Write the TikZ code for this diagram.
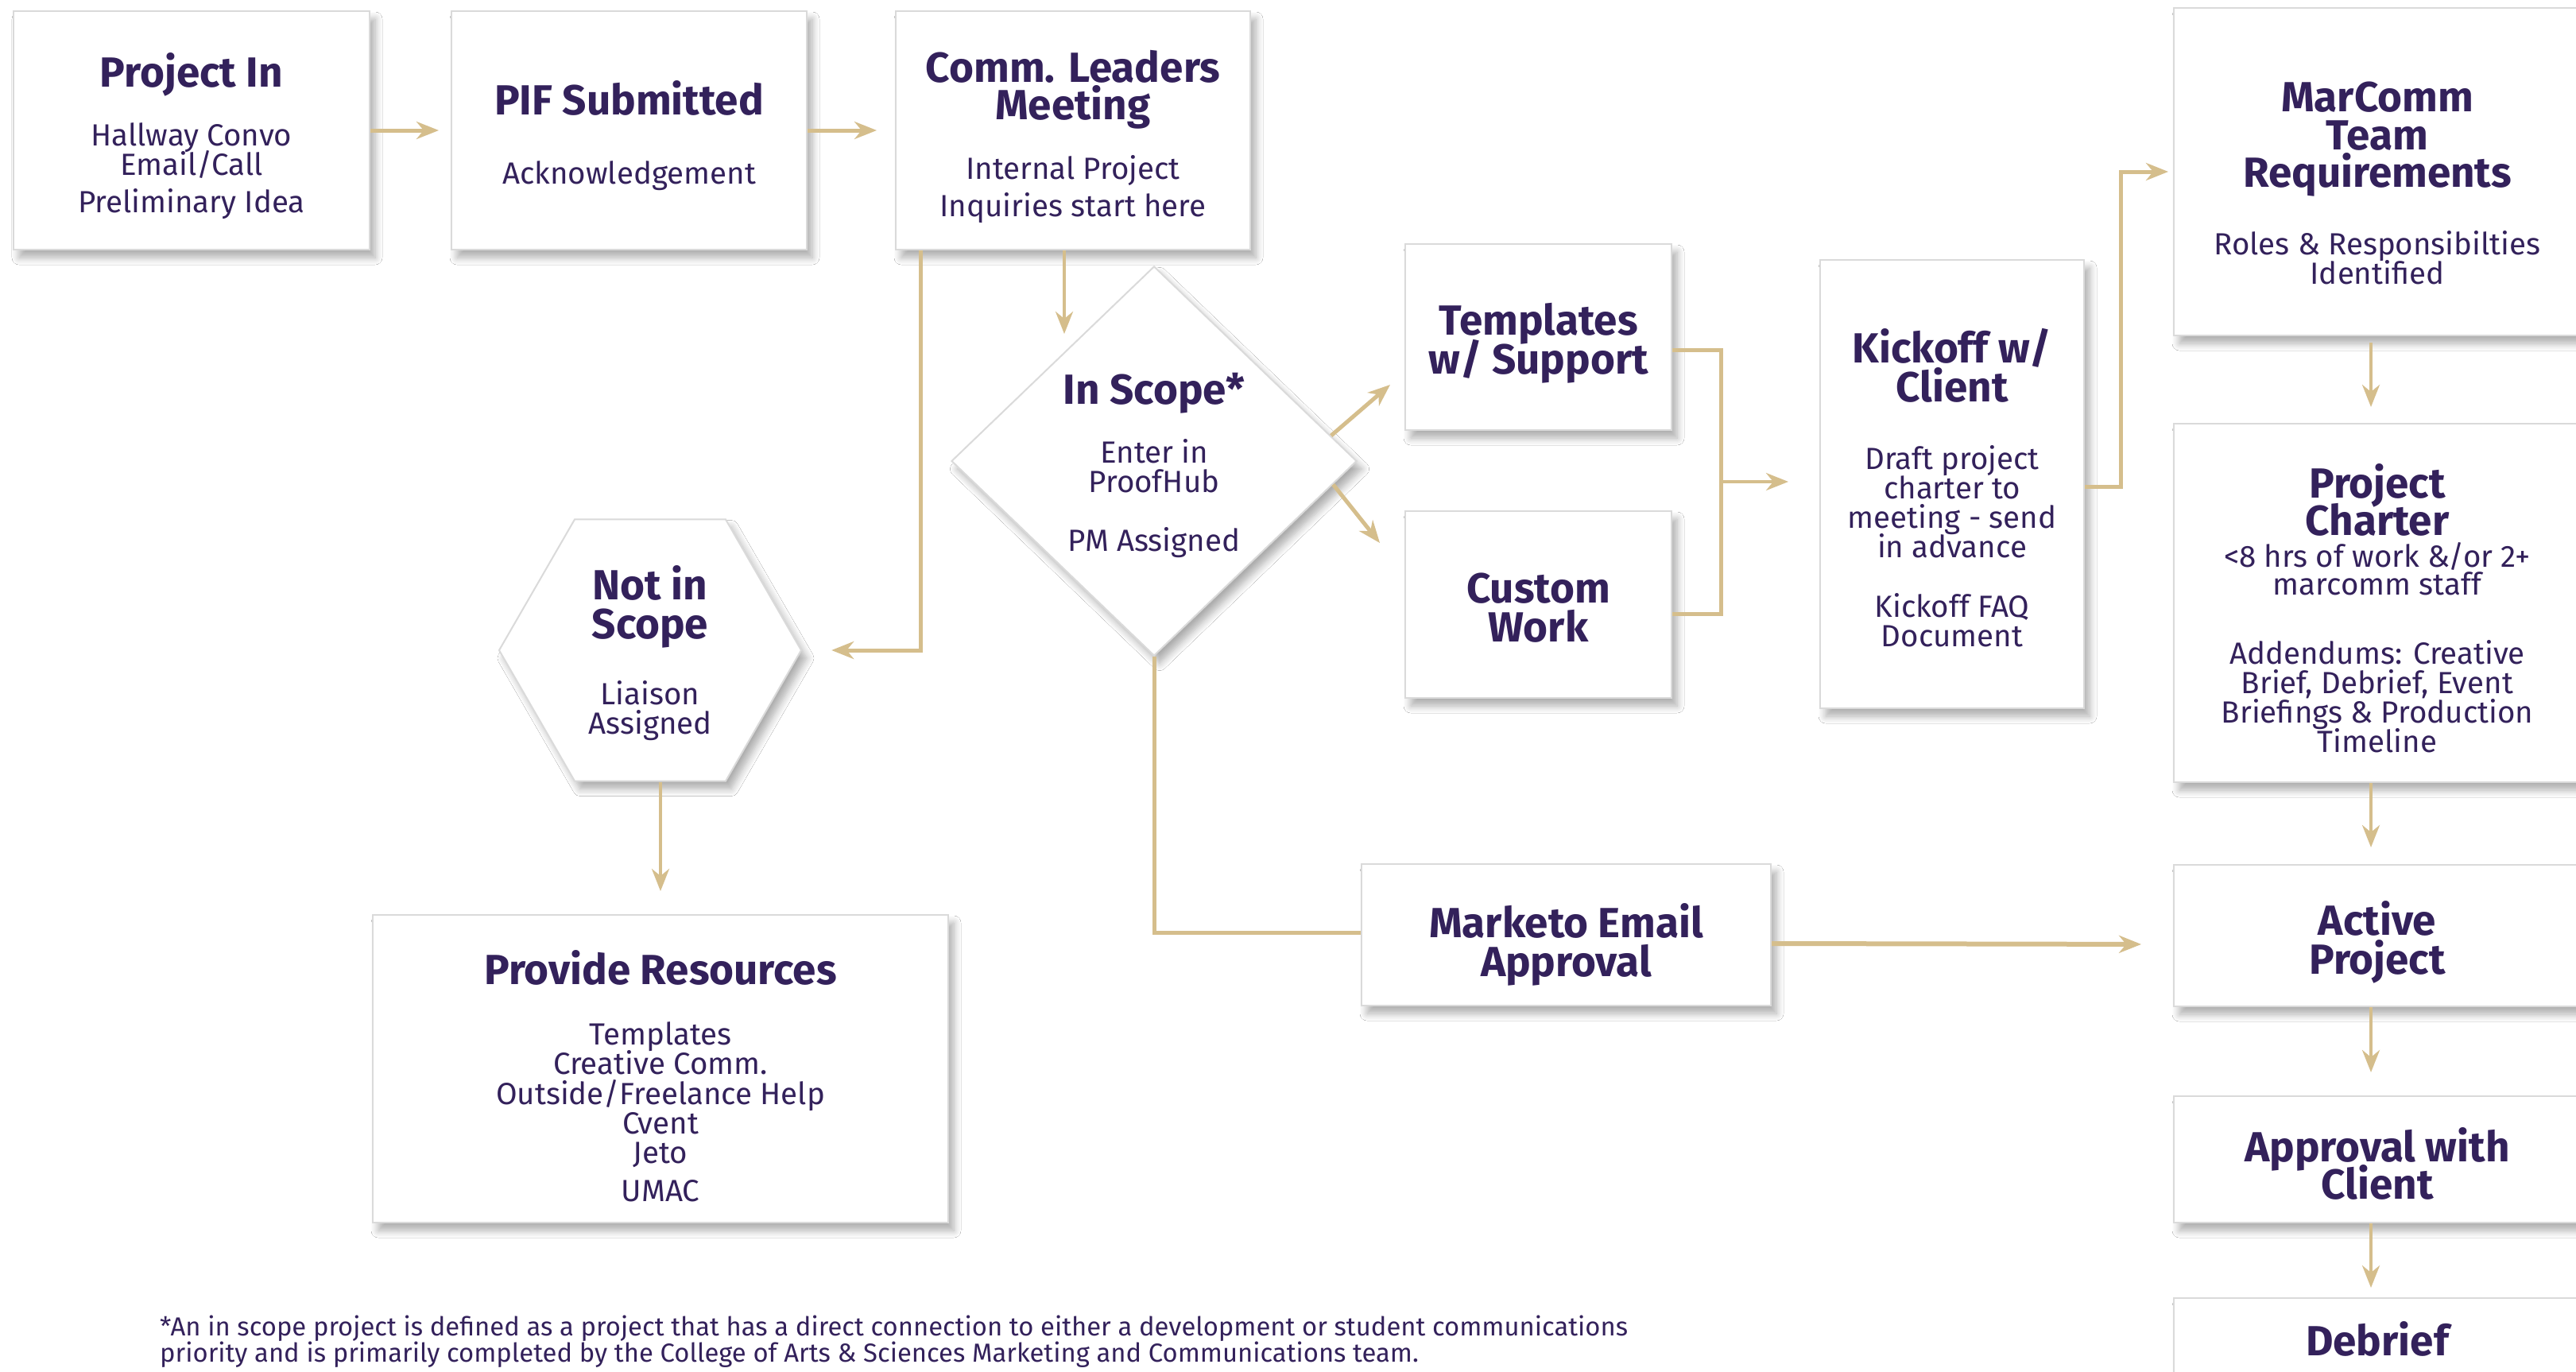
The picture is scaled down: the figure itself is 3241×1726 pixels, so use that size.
\documentclass[tikz,border=0pt]{standalone}
\usepackage{fontspec}
\setmainfont{Fira Sans}
\usetikzlibrary{arrows.meta,shapes.geometric,shadows.blur,calc}
\definecolor{pur}{HTML}{33215B}
\definecolor{gold}{HTML}{D5BE8C}
\definecolor{bord}{HTML}{DADADA}
\newcommand\mytitle{\fontsize{53}{37}\selectfont\bfseries\lineskiplimit=-500pt\lineskip=0pt}
\newcommand\mybody{\fontsize{38.5}{37}\selectfont\lineskiplimit=-500pt\lineskip=0pt}
\newcommand\mynote{\fontsize{32.8}{33}\selectfont\lineskiplimit=-500pt\lineskip=0pt}
\newcommand\topr{\rule{0pt}{68pt}}
\newcommand\botr[1]{\rule[-#1pt]{0pt}{#1pt}}
\begin{document}
\begin{tikzpicture}[x=1pt,y=-1pt,
  shp/.style={draw=bord, line width=2pt, fill=white, text=pur, font=\mybody, align=center, inner sep=0pt,
     blur shadow={shadow xshift=7pt, shadow yshift=-10pt, shadow blur radius=9pt, shadow blur steps=8, shadow opacity=32}},
  box/.style={shp, rectangle},
  con/.style={draw=gold, line width=5pt},
  arr/.style={con, -{Stealth[length=28pt,width=22pt,inset=9pt]}},
  varr/.style={arr, line width=4pt},
]
\fill[white] (0,0) rectangle (3241,1726);
\useasboundingbox (0,0) rectangle (3241,1726);

% boxes
\node[box, minimum width=448pt, minimum height=300pt] (pin) at (241,164)
  {{\mytitle\topr Project In}\\[37pt]Hallway Convo\\Email/Call\\[10pt]Preliminary Idea\botr{19}};
\node[box, minimum width=447pt, minimum height=300pt] (pif) at (791.5,164)
  {{\mytitle\topr PIF Submitted}\\[50pt]Acknowledgement\botr{20}};
\node[box, minimum width=446pt, minimum height=300pt] (comm) at (1350,164)
  {{\mytitle\topr Comm. Leaders}\\[10pt]{\mytitle Meeting}\\[38pt]Internal Project\\[10pt]Inquiries start here\botr{20}};
\node[shp, diamond, inner sep=-50pt, minimum width=510pt, minimum height=490pt] (scope) at (1452,580)
  {{\mytitle\topr In Scope*}\\[37pt]Enter in\\ProofHub\\[37pt]PM Assigned\botr{26}};
\node[shp, regular polygon, regular polygon sides=6, inner sep=-60pt, minimum size=380pt] (notin) at (818,818)
  {{\mytitle\topr Not in}\\[12pt]{\mytitle Scope}\\[46pt]Liaison\\Assigned\botr{26}};
\node[box, minimum width=335pt, minimum height=234pt] (tmpl) at (1935.5,424)
  {{\mytitle\topr Templates}\\[12pt]{\mytitle w/ Support\botr{24}}};
\node[box, minimum width=335pt, minimum height=235pt] (custom) at (1935.5,760.5)
  {{\mytitle\topr Custom}\\[12pt]{\mytitle Work\botr{23}}};
\node[box, minimum width=332pt, minimum height=564pt] (kick) at (2456,609)
  {{\mytitle\topr Kickoff w/}\\[12pt]{\mytitle Client}\\[48pt]Draft project\\charter to\\meeting - send\\in advance\\[38pt]Kickoff FAQ\\Document\botr{16}};
\node[box, minimum width=512pt, minimum height=412pt] (marc) at (2991,216)
  {{\mytitle\topr MarComm}\\[11pt]{\mytitle Team}\\[10pt]{\mytitle Requirements}\\[48pt]Roles \& Responsibilties\\Identified\botr{2}};
\node[box, minimum width=512pt, minimum height=451pt] (charter) at (2991,758.5)
  {{\mytitle\topr Project}\\[10pt]{\mytitle Charter}\\[3pt]<8 hrs of work \&/or 2+\\[-2pt]marcomm staff\\[50pt]Addendums: Creative\\Brief, Debrief, Event\\Briefings \& Production\\Timeline\botr{12}};
\node[box, minimum width=512pt, minimum height=178pt] (active) at (2991,1177)
  {{\mytitle\topr Active}\\[12pt]{\mytitle Project\botr{20}}};
\node[box, minimum width=512pt, minimum height=159pt] (appr) at (2991,1458.5)
  {{\mytitle\topr Approval with}\\[10pt]{\mytitle Client\botr{15}}};
\node[box, minimum width=512pt, minimum height=104pt] (debrief) at (2991,1685)
  {{\mytitle\topr Debrief\botr{27}}};
\node[box, minimum width=515pt, minimum height=178pt] (marketo) at (1970.5,1176)
  {{\mytitle\topr Marketo Email}\\[12pt]{\mytitle Approval\botr{10}}};
\node[box, minimum width=724pt, minimum height=387pt] (prov) at (831,1344.5)
  {{\mytitle\topr Provide Resources}\\[39pt]Templates\\Creative Comm.\\[1pt]Outside/Freelance Help\\Cvent\\Jeto\\[11pt]UMAC\botr{7}};

\node[anchor=north west, inner sep=0pt, align=left, text=pur, font=\mynote] (note) at (201,1655)
  {*An in scope project is defined as a project that has a direct connection to either a development or student communications\\priority and is primarily completed by the College of Arts \& Sciences Marketing and Communications team.};

% free ends / joints
\coordinate (scin) at (1339,420);
\coordinate (tmplin) at (1749,484);
\coordinate (custin) at (1736,683);
\coordinate (jx) at (2165,606);
\coordinate (kx) at (2668,612);

% connectors
\draw[arr, shorten >=15pt] (pin.east) -- (pif.west);
\draw[arr, shorten >=23pt] (pif.east) -- (comm.west);
\draw[varr] ([xshift=-11pt]comm.south) -- (scin);
\draw[arr, shorten >=37pt] ([xshift=-192pt]comm.south) |- (notin.east);
\draw[arr] ($(scope.east)!0.13!(scope.north)$) -- (tmplin);
\draw[arr] ($(scope.east)!0.12!(scope.south)$) -- (custin);
\draw[con] ([yshift=-16pt]tmpl.east) -| (jx) |- ([yshift=-12pt]custom.east);
\draw[varr, shorten >=39pt] (jx) -- (jx -| kick.west);
\draw[arr, shorten >=6pt] ([yshift=-3pt]kick.east) -- (kx) |- (marc.west);
\draw[varr, shorten <=8pt, shorten >=20pt] ([xshift=-8pt]marc.south) -- ([xshift=-8pt]charter.north);
\draw[varr, shorten >=21pt] ([xshift=-8pt]charter.south) -- ([xshift=-8pt]active.north);
\draw[varr, shorten >=29pt] ([xshift=-8pt]active.south) -- ([xshift=-8pt]appr.north);
\draw[varr, shorten >=12pt] ([xshift=-8pt]appr.south) -- ([xshift=-8pt]debrief.north);
\draw[con] (scope.south) |- ([yshift=3pt]marketo.west);
\draw[arr, line width=6pt, shorten >=40pt] ([yshift=-11pt]marketo.east) -- ([yshift=-11pt]active.west);
\draw[varr, shorten >=29pt] (notin.south -| prov.north) -- (prov.north);
\end{tikzpicture}
\end{document}
